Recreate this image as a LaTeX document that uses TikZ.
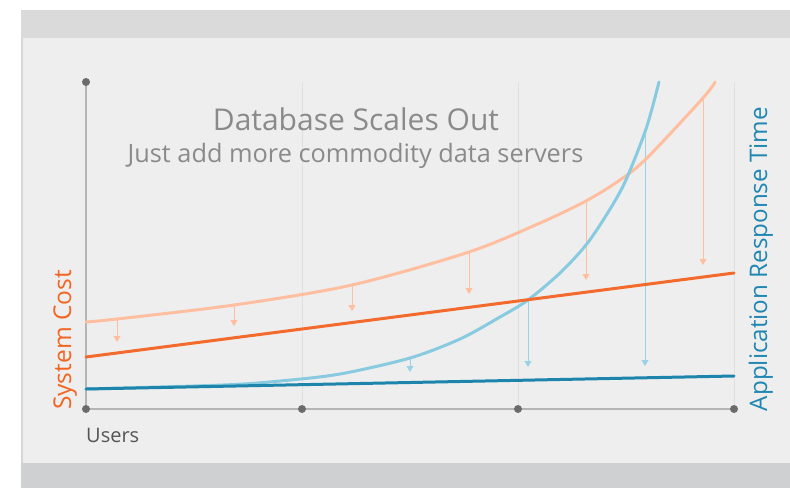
\documentclass[tikz,border=0pt]{standalone}
\usepackage{fontspec}
\setmainfont{Open Sans}
\usetikzlibrary{arrows.meta}
\definecolor{topband}{HTML}{DADADA}
\definecolor{panel}{HTML}{EEEEEE}
\definecolor{botband}{HTML}{CFD0D2}
\definecolor{edge}{HTML}{D6D6D6}
\definecolor{gridc}{HTML}{E0E0E0}
\definecolor{axisc}{HTML}{B4B4B4}
\definecolor{dotc}{HTML}{6B6B6B}
\definecolor{costold}{HTML}{FFBE9F}
\definecolor{costnew}{HTML}{F26A2C}
\definecolor{timeold}{HTML}{88CBE0}
\definecolor{timenew}{HTML}{1D84AC}
\definecolor{titlec}{HTML}{8A8A8A}
\definecolor{usersc}{HTML}{555555}
\definecolor{costlab}{HTML}{F26522}
\definecolor{timelab}{HTML}{1F87B1}
\begin{document}
\begin{tikzpicture}[x=1pt,y=-1pt,
  dotnode/.style={circle,fill=dotc,inner sep=0pt,minimum size=8pt},
  gridline/.style={gridc,line width=1pt},
  axisline/.style={axisc,line width=1.2pt},
  curve/.style={line width=3pt,line cap=round,line join=round},
  costarrow/.style={costold,line width=1pt,-{Triangle[width=7pt,length=6pt]}},
  timearrow/.style={timeold!85!white,line width=1pt,-{Triangle[width=7pt,length=6pt]}},
  lab/.style={inner sep=0pt,anchor=base}]
\useasboundingbox (0,0) rectangle (790,488);
% frame
\fill[white] (0,0) rectangle (790,488);
\fill[topband] (21,10) rectangle (790,38);
\fill[panel] (21,38) rectangle (790,463);
\fill[botband] (21,463) rectangle (790,488);
\draw[edge,line width=1.5pt] (22,38) -- (22,463);
% axis points
\coordinate (ytop) at (86,82);
\coordinate (o) at (86,409);
\coordinate (x1) at (302,409);
\coordinate (x2) at (518,409);
\coordinate (x3) at (734,409);
\coordinate (g1) at (302,82);
\coordinate (g2) at (518,82);
\coordinate (g3) at (734,82);
\draw[gridline] (g1) -- (x1);
\draw[gridline] (g2) -- (x2);
\draw[gridline] (g3) -- (x3);
\draw[axisline] (ytop) -- (o);
\draw[axisline] (o) -- (x3);
\foreach \p in {ytop,o,x1,x2,x3} {\node[dotnode] at (\p) {};}
% arrows
\coordinate (c1) at (117,319); \coordinate (c1t) at (117,342);
\coordinate (c2) at (234,305); \coordinate (c2t) at (234,326);
\coordinate (c3) at (352,285); \coordinate (c3t) at (352,311);
\coordinate (c4) at (469,252); \coordinate (c4t) at (469,294);
\coordinate (c5) at (586,201); \coordinate (c5t) at (586,280);
\coordinate (c6) at (703,98);  \coordinate (c6t) at (703,265);
\foreach \i in {1,...,6} {\draw[costarrow] (c\i) -- (c\i t);}
\coordinate (t1) at (410,358); \coordinate (t1t) at (410,372);
\coordinate (t2) at (528,300); \coordinate (t2t) at (528,367);
\coordinate (t3) at (645,131); \coordinate (t3t) at (645,366);
\foreach \i in {1,2,3} {\draw[timearrow] (t\i) -- (t\i t);}
% curves
\draw[curve,costold] plot[smooth] coordinates {(86,322) (117,319) (234,305) (352,285) (469,252) (540,223) (586,201) (620,180) (647,158) (703,98) (715,82)};
\draw[curve,timeold] plot[smooth] coordinates {(86,389) (223,385) (280,381) (340,374) (410,358) (460,339) (500,317) (528,300) (560,273) (586,245) (607,214) (625,182) (646,129) (659,82)};
\coordinate (cn0) at (86,357); \coordinate (cn1) at (734,273);
\coordinate (tn0) at (86,389); \coordinate (tn1) at (734,376);
\draw[curve,costnew] (cn0) -- (cn1);
\draw[curve,timenew] (tn0) -- (tn1);
% texts
\node[lab,titlec,font=\fontsize{30}{36}\selectfont] (title) at (356,130) {Database Scales Out};
\node[lab,titlec,font=\fontsize{25.3}{30}\selectfont] (sub) at (355.5,162) {Just add more commodity data servers};
\node[lab,usersc,font=\fontsize{20}{24}\selectfont,anchor=base west] (users) at (86,442) {Users};
\node[lab,costlab,font=\fontsize{24.5}{28}\selectfont,rotate=90] (ylab) at (71,340) {System Cost};
\node[lab,timelab,font=\fontsize{24.2}{28}\selectfont,rotate=90] (y2lab) at (767,259) {Application Response Time};
\end{tikzpicture}
\end{document}
